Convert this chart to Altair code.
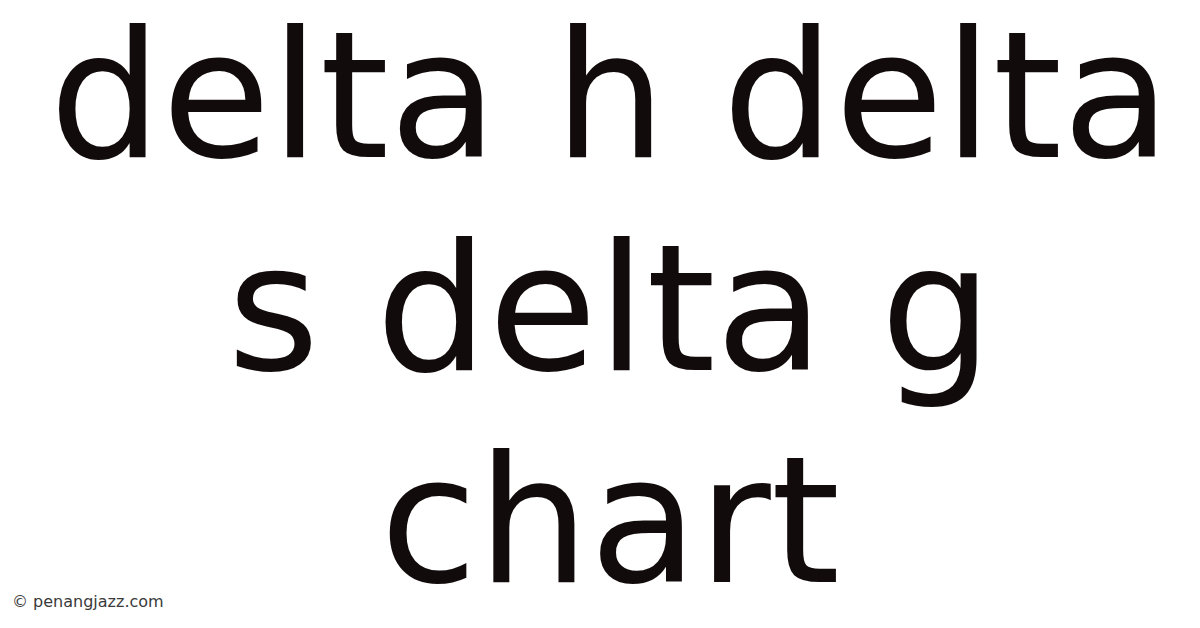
import altair as alt
import pandas as pd

lines = ["delta h delta", "s delta g", "chart"]
rows = [0, 1, 2]
watermark = ["© penangjazz.com"]

df = pd.DataFrame({"text": lines, "row": rows})
wm = pd.DataFrame({"text": watermark, "row": [0]})

big = alt.Chart(df).mark_text(
    font="DejaVu Sans", fontSize=177, color="#120b0b",
    align="center", baseline="alphabetic"
).encode(
    x=alt.value(602),
    y=alt.Y("row:Q", scale=alt.Scale(domain=[0, 2], range=[149, 574]), axis=None),
    text="text:N",
)

small = alt.Chart(wm).mark_text(
    font="DejaVu Sans", fontSize=16, color="#3a3a3a",
    align="left", baseline="alphabetic"
).encode(
    x=alt.value(4),
    y=alt.value(599),
    text="text:N",
)

chart = alt.layer(big, small).properties(
    width=1184, height=612, padding=0, autosize="none", background="white"
).configure_view(stroke=None)

chart.save("out.html", embed_options={"renderer": "svg", "actions": False})
